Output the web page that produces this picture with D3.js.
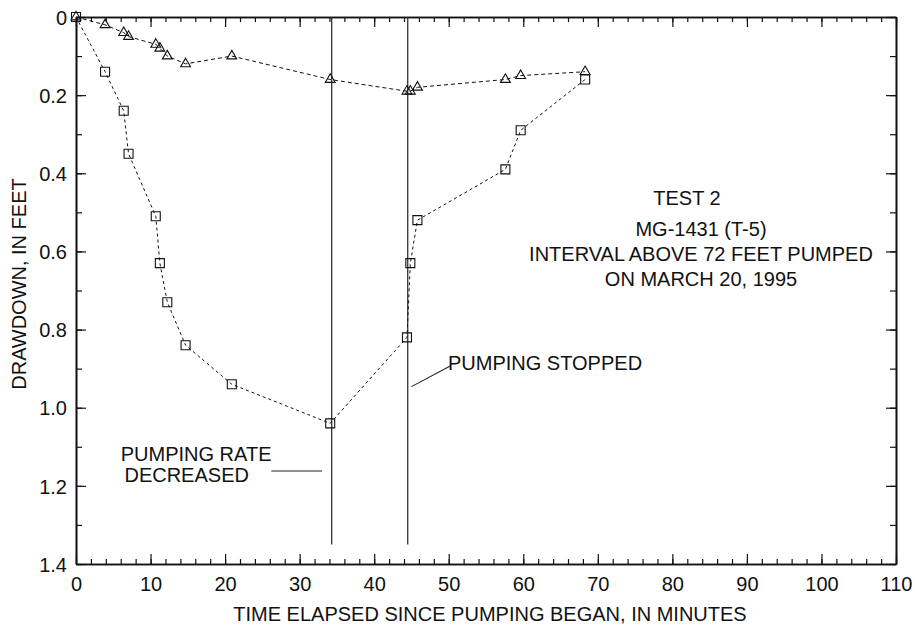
<!DOCTYPE html>
<html>
<head>
<meta charset="utf-8">
<script src="https://cdn.jsdelivr.net/npm/d3@7"></script>
<style>
  body { margin: 0; background: #fff; }
  text { font-family: "Liberation Sans", Arial, sans-serif; font-size: 20px; fill: #111; }
  .axis path, .axis line { stroke: #111; }
</style>
</head>
<body>
<svg id="viz" width="915" height="629"></svg>
<script>
// time of each reading, minutes since pumping began (shared by both wells)
var minutes = [0, 3.9, 6.4, 7.05, 10.7, 11.25, 12.25, 14.7, 20.9, 34.1, 44.4, 44.85, 45.8, 57.6, 59.65, 68.3];
var triangleDrawdown = [0, 0.02, 0.04, 0.05, 0.07, 0.08, 0.10, 0.12, 0.10, 0.16, 0.19, 0.19, 0.18, 0.16, 0.15, 0.14];
var squareDrawdown = [0, 0.14, 0.24, 0.35, 0.51, 0.63, 0.73, 0.84, 0.94, 1.04, 0.82, 0.63, 0.52, 0.39, 0.29, 0.16];

var eventTimes = [34.3, 44.5];   // rate decreased, pumping stopped
var eventBottom = 1.35;

var xTicks = [0, 10, 20, 30, 40, 50, 60, 70, 80, 90, 100, 110];
var yTicks = [0, 0.2, 0.4, 0.6, 0.8, 1.0, 1.2, 1.4];

var infoLines = ["MG-1431 (T-5)", "INTERVAL ABOVE 72 FEET PUMPED", "ON MARCH 20, 1995"];

var svg = d3.select("#viz");
var box = {left: 76, right: 896, top: 17, bottom: 564};

var x = d3.scaleLinear().domain([0, 110]).range([box.left, box.right]);
var y = d3.scaleLinear().domain([0, 1.4]).range([box.top, box.bottom]);

var yFmt = function(d){ return d === 0 ? "0" : d3.format(".1f")(d); };

// minor ticks first
svg.append("g").attr("class", "axis").attr("transform", "translate(0," + box.bottom + ")")
  .call(d3.axisBottom(x).tickValues(d3.range(0, 111, 2)).tickSize(-5).tickSizeOuter(0).tickFormat(""));
svg.append("g").attr("class", "axis").attr("transform", "translate(0," + box.top + ")")
  .call(d3.axisTop(x).tickValues(d3.range(0, 111, 2)).tickSize(-5).tickSizeOuter(0).tickFormat(""));
svg.append("g").attr("class", "axis").attr("transform", "translate(" + box.left + ",0)")
  .call(d3.axisLeft(y).tickValues(d3.range(0, 1.41, 0.1)).tickSize(-6).tickSizeOuter(0).tickFormat(""));
svg.append("g").attr("class", "axis").attr("transform", "translate(" + box.right + ",0)")
  .call(d3.axisRight(y).tickValues(d3.range(0, 1.41, 0.1)).tickSize(-6).tickSizeOuter(0).tickFormat(""));

// major ticks with labels
var xAxis = svg.append("g").attr("class", "axis").attr("transform", "translate(0," + box.bottom + ")")
  .call(d3.axisBottom(x).tickValues(xTicks).tickSize(-10).tickSizeOuter(0).tickPadding(13));
var xTop = svg.append("g").attr("class", "axis").attr("transform", "translate(0," + box.top + ")")
  .call(d3.axisTop(x).tickValues(xTicks).tickSize(-10).tickSizeOuter(0).tickFormat(""));
var yAxis = svg.append("g").attr("class", "axis").attr("transform", "translate(" + box.left + ",0)")
  .call(d3.axisLeft(y).tickValues(yTicks).tickSize(-10).tickSizeOuter(0).tickPadding(9).tickFormat(yFmt));
var yRight = svg.append("g").attr("class", "axis").attr("transform", "translate(" + box.right + ",0)")
  .call(d3.axisRight(y).tickValues(yTicks).tickSize(-10).tickSizeOuter(0).tickFormat(""));

svg.selectAll(".axis path.domain").attr("stroke-width", 1.6);
svg.selectAll(".axis .tick line").attr("stroke-width", 1.2);
svg.selectAll(".axis text").attr("font-size", 20).attr("fill", "#111")
   .attr("font-family", "Liberation Sans, Arial, sans-serif");
yAxis.selectAll("text").attr("dy", "0.36em");

// event lines
svg.selectAll(".event").data(eventTimes).enter().append("line")
  .attr("x1", function(d){ return x(d); }).attr("x2", function(d){ return x(d); })
  .attr("y1", y(0)).attr("y2", y(eventBottom))
  .attr("stroke", "#333").attr("stroke-width", 1.3);

// series
var line = d3.line().x(function(d){ return x(d[0]); }).y(function(d){ return y(d[1]); });
var triPts = minutes.map(function(m, i){ return [m, triangleDrawdown[i]]; });
var sqPts = minutes.map(function(m, i){ return [m, squareDrawdown[i]]; });

svg.append("path").datum(triPts).attr("d", line).attr("fill", "none")
  .attr("stroke", "#111").attr("stroke-width", 1).attr("stroke-dasharray", "4,3");
svg.append("path").datum(sqPts).attr("d", line).attr("fill", "none")
  .attr("stroke", "#111").attr("stroke-width", 1).attr("stroke-dasharray", "3,3");

svg.selectAll(".sq").data(sqPts).enter().append("path")
  .attr("d", d3.symbol(d3.symbolSquare, 81))
  .attr("transform", function(d){ return "translate(" + x(d[0]) + "," + y(d[1]) + ")"; })
  .attr("fill", "none").attr("stroke", "#111").attr("stroke-width", 1.1);
svg.selectAll(".tri").data(triPts).enter().append("path")
  .attr("d", d3.symbol(d3.symbolTriangle, 42))
  .attr("transform", function(d){ return "translate(" + x(d[0]) + "," + y(d[1]) + ")"; })
  .attr("fill", "none").attr("stroke", "#111").attr("stroke-width", 1.1);

// annotations
svg.append("text").attr("x", x(6.0)).attr("y", y(1.136)).text("PUMPING RATE");
svg.append("text").attr("x", x(6.5)).attr("y", y(1.191)).text("DECREASED");
svg.append("line").attr("x1", x(26.2)).attr("x2", x(33.0)).attr("y1", y(1.162)).attr("y2", y(1.162))
  .attr("stroke", "#222").attr("stroke-width", 1.1);

svg.append("text").attr("x", x(49.9)).attr("y", y(0.904)).text("PUMPING STOPPED");
svg.append("line").attr("x1", x(45.0)).attr("y1", y(0.946)).attr("x2", x(50.2)).attr("y2", y(0.893))
  .attr("stroke", "#222").attr("stroke-width", 1.1);

svg.append("text").attr("x", 687).attr("y", 205).attr("text-anchor", "middle").text("TEST 2");
svg.selectAll(".info").data(infoLines).enter().append("text")
  .attr("x", 701).attr("y", function(d, i){ return 236 + i * 25; })
  .attr("text-anchor", "middle").text(function(d){ return d; });

// axis titles
svg.append("text").attr("x", 490).attr("y", 621).attr("text-anchor", "middle")
  .attr("font-size", 20.2)
  .text("TIME ELAPSED SINCE PUMPING BEGAN, IN MINUTES");
svg.append("text").attr("transform", "translate(26,284) rotate(-90)").attr("text-anchor", "middle")
  .text("DRAWDOWN, IN FEET");
</script>
</body>
</html>
